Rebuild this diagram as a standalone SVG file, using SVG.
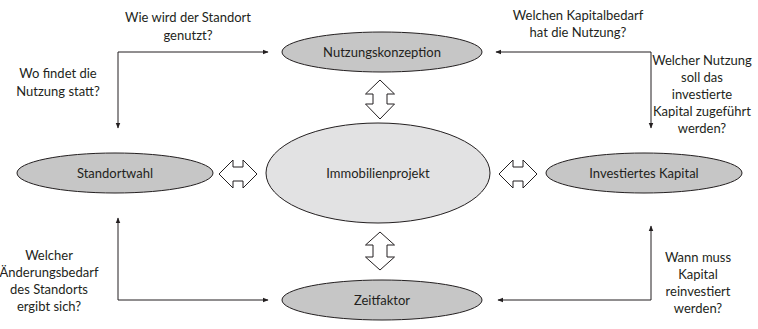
<svg xmlns="http://www.w3.org/2000/svg" width="758" height="329" viewBox="0 0 758 329">
<defs>
<style>
.node{fill:#c6c6c6;stroke:#231f20;stroke-width:1}
.center{fill:#e2e2e3;stroke:#231f20;stroke-width:1}
.lbl{font-family:Lato,"Liberation Sans",sans-serif;font-size:13px;fill:#231f20;text-anchor:middle}
.q{font-family:Lato,"Liberation Sans",sans-serif;font-size:13px;fill:#231f20;text-anchor:middle}
.conn{fill:none;stroke:#231f20;stroke-width:1}
.blk{fill:#fff;stroke:#231f20;stroke-width:1}
</style>
<marker id="ah" viewBox="0 0 10 10" refX="9" refY="5" markerWidth="6" markerHeight="6" orient="auto-start-reverse" markerUnits="userSpaceOnUse">
<path d="M0,1 L10,5 L0,9 z" fill="#231f20"/>
</marker>
</defs>
<rect width="758" height="329" fill="#fff"/>
<g id="connectors">
<polyline class="conn" points="118,128 118,52 268,52" marker-start="url(#ah)" marker-end="url(#ah)"/>
<polyline class="conn" points="496,52 651,52 651,128" marker-start="url(#ah)" marker-end="url(#ah)"/>
<polyline class="conn" points="118,218 118,300 268,300" marker-start="url(#ah)" marker-end="url(#ah)"/>
<polyline class="conn" points="498,300 651,300 651,226" marker-start="url(#ah)" marker-end="url(#ah)"/>
<path class="blk" d="M380,80 L394.5,94 L387,94 L387,104 L394.5,104 L380,119 L365.5,104 L373,104 L373,94 L365.5,94 Z"/>
<path class="blk" d="M380,232 L394.5,245 L387,245 L387,257 L394.5,257 L380,270 L365.5,257 L373,257 L373,245 L365.5,245 Z"/>
<path class="blk" d="M219,174 L233,160 L233,167 L243,167 L243,160 L257,174 L243,188 L243,181 L233,181 L233,188 Z"/>
<path class="blk" d="M499,174 L513,160 L513,167 L523,167 L523,160 L537,174 L523,188 L523,181 L513,181 L513,188 Z"/>
</g>
<g id="nutzungskonzeption">
<ellipse class="node" cx="382" cy="52" rx="100" ry="20"/>
<text class="lbl" x="382" y="56.5">Nutzungskonzeption</text>
</g>
<g id="immobilienprojekt">
<ellipse class="center" cx="378" cy="173" rx="112" ry="50"/>
<text class="lbl" x="378" y="177.5">Immobilienprojekt</text>
</g>
<g id="standortwahl">
<ellipse class="node" cx="115" cy="173" rx="98" ry="20"/>
<text class="lbl" x="115" y="177.5">Standortwahl</text>
</g>
<g id="investiertes-kapital">
<ellipse class="node" cx="644" cy="173" rx="98" ry="20"/>
<text class="lbl" x="644" y="177.5">Investiertes Kapital</text>
</g>
<g id="zeitfaktor">
<ellipse class="node" cx="382" cy="300" rx="100" ry="20"/>
<text class="lbl" x="382" y="304.5">Zeitfaktor</text>
</g>
<g id="labels">
<text class="q" x="188" y="22">Wie wird der Standort</text>
<text class="q" x="188" y="40">genutzt?</text>
<text class="q" x="58" y="78">Wo findet die</text>
<text class="q" x="58" y="96">Nutzung statt?</text>
<text class="q" x="578" y="20">Welchen Kapitalbedarf</text>
<text class="q" x="578" y="37">hat die Nutzung?</text>
<text class="q" x="702" y="65">Welcher Nutzung</text>
<text class="q" x="702" y="82">soll das</text>
<text class="q" x="702" y="99">investierte</text>
<text class="q" x="702" y="116">Kapital zugeführt</text>
<text class="q" x="702" y="133">werden?</text>
<text class="q" x="49" y="260">Welcher</text>
<text class="q" x="49" y="277">Änderungsbedarf</text>
<text class="q" x="49" y="294">des Standorts</text>
<text class="q" x="49" y="311">ergibt sich?</text>
<text class="q" x="698" y="262">Wann muss</text>
<text class="q" x="698" y="279">Kapital</text>
<text class="q" x="698" y="296">reinvestiert</text>
<text class="q" x="698" y="313">werden?</text>
</g>
</svg>
